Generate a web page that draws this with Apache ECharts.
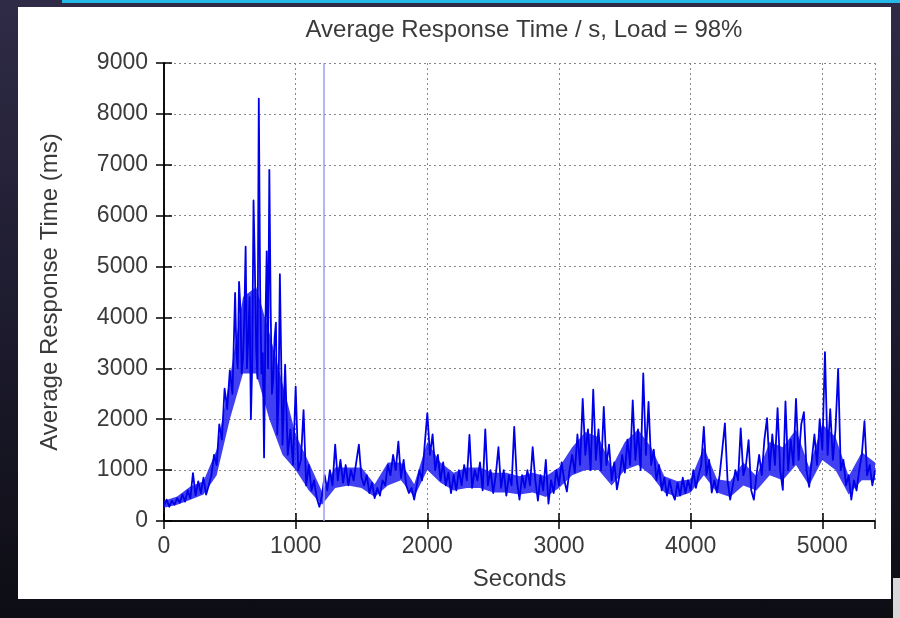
<!DOCTYPE html>
<html>
<head>
<meta charset="utf-8">
<script src="https://cdn.jsdelivr.net/npm/echarts@6/dist/echarts.min.js"></script>
<style>
  html, body { margin: 0; padding: 0; width: 900px; height: 618px; overflow: hidden; }
  body { background: linear-gradient(180deg, #2f2b47 0%, #1c1a2c 55%, #0d0d14 100%); position: relative; }
  #strip { position: absolute; left: 62px; top: 0; width: 838px; height: 3px; background: #25b9ea; }
  #panel { position: absolute; left: 18px; top: 7px; width: 873px; height: 592px; background: #ffffff; }
  #corner { position: absolute; left: 893px; top: 578px; width: 7px; height: 40px; background: #d8d8d8; }
  #chart { position: absolute; left: 0; top: 0; width: 900px; height: 618px; }
</style>
</head>
<body>
<div id="strip"></div>
<div id="panel"></div>
<div id="corner"></div>
<div id="chart"></div>
<script>
// ---- data ----
const chartTitle = 'Average Response Time / s, Load = 98%';
const xAxisName = 'Seconds';
const yAxisName = 'Average Response Time (ms)';
const xRange = [0, 5400];
const xTickStep = 1000;
const yRange = [0, 9000];
const yTickStep = 1000;
const markerSeconds = 1210; // light vertical marker line

// [seconds, response ms] — the noisy trace
const responseSamples = [
  [0,300],[20,420],[40,280],[60,400],[80,320],[100,450],[120,360],[140,520],[160,380],[180,600],
  [200,450],[220,940],[240,500],[260,780],[280,550],[300,850],[320,520],[340,700],[360,900],[380,1300],
  [400,1100],[420,1900],[440,1600],[460,2600],[480,2200],[500,2960],[520,2500],[540,4480],[550,3300],[560,3000],
  [570,4700],[580,4200],[590,2900],[600,3200],[610,4000],[620,5390],[630,3000],[640,3600],[650,4400],[660,2000],
  [670,3100],[680,6300],[690,5000],[700,3400],[710,2800],[720,8300],[730,4600],[740,2900],[750,3300],[760,1250],
  [770,3800],[780,5300],[790,3000],[800,6900],[810,4200],[820,2500],[830,2800],[840,3600],[850,3900],[860,1700],
  [870,2400],[880,4850],[900,1500],[920,3070],[940,1300],[960,1800],[980,1100],[1000,2640],[1020,1000],[1040,1200],
  [1060,2180],[1080,700],[1100,1100],[1120,600],[1140,800],[1160,450],[1180,280],[1200,500],[1220,900],[1240,600],
  [1260,1000],[1280,700],[1300,1500],[1320,800],[1340,1200],[1360,750],[1380,1100],[1400,700],[1420,1000],[1440,800],
  [1460,1150],[1480,1500],[1500,850],[1520,700],[1540,900],[1560,550],[1580,750],[1600,450],[1620,650],[1640,500],
  [1660,800],[1680,700],[1700,1100],[1720,900],[1740,1300],[1760,1000],[1780,1560],[1800,850],[1820,1200],[1840,700],
  [1860,550],[1880,650],[1900,420],[1920,700],[1940,1000],[1960,800],[1980,1500],[2000,2120],[2020,1300],[2040,1700],
  [2060,1000],[2080,1300],[2100,800],[2120,1150],[2140,700],[2160,950],[2180,550],[2200,900],[2220,600],[2240,1000],
  [2260,700],[2280,1100],[2300,800],[2320,1690],[2340,650],[2360,1000],[2380,800],[2400,1150],[2420,600],[2440,1800],
  [2460,700],[2480,1000],[2500,550],[2520,900],[2540,1450],[2560,650],[2580,1000],[2600,500],[2620,900],[2640,700],
  [2660,1850],[2680,800],[2700,420],[2720,900],[2740,650],[2760,1000],[2780,700],[2800,1450],[2820,800],[2840,400],
  [2860,900],[2880,600],[2900,1200],[2920,340],[2940,800],[2960,550],[2980,1000],[3000,700],[3020,1150],[3040,800],
  [3060,580],[3080,1000],[3100,1300],[3120,950],[3140,1700],[3160,1100],[3180,2400],[3200,1300],[3220,1800],[3240,1000],
  [3260,2580],[3280,1200],[3300,1800],[3320,1000],[3340,2240],[3360,1100],[3380,1500],[3400,800],[3420,1150],[3440,620],
  [3460,900],[3480,1300],[3500,950],[3520,1600],[3540,1100],[3560,2370],[3580,1200],[3600,1800],[3620,1000],[3640,2900],
  [3660,1300],[3680,2340],[3700,1100],[3720,1400],[3740,800],[3760,1100],[3780,600],[3800,850],[3820,500],[3840,800],
  [3860,550],[3880,420],[3900,750],[3920,500],[3940,850],[3960,550],[3980,800],[4000,600],[4020,1000],[4040,650],
  [4060,900],[4080,1100],[4100,1850],[4120,900],[4140,1200],[4160,560],[4180,800],[4200,560],[4220,900],[4240,1400],
  [4260,1920],[4280,800],[4300,420],[4320,700],[4340,1000],[4360,800],[4380,1820],[4400,900],[4420,1100],[4440,1590],
  [4460,600],[4480,420],[4500,900],[4520,1300],[4540,900],[4560,1600],[4580,2020],[4600,1000],[4620,1700],[4640,1100],
  [4660,2220],[4680,1000],[4700,610],[4720,2350],[4740,1000],[4760,1600],[4780,1100],[4800,2400],[4820,1200],[4840,1900],
  [4860,2140],[4880,1000],[4900,670],[4920,1200],[4940,1700],[4960,1100],[4980,2000],[5000,1400],[5020,3320],[5040,1300],
  [5060,2200],[5080,1200],[5100,1800],[5120,2990],[5140,1000],[5160,1200],[5180,700],[5200,900],[5220,420],[5240,800],
  [5260,600],[5280,1000],[5300,1300],[5320,1960],[5340,900],[5360,1100],[5380,700],[5400,1000]
];

// dense core of the noisy band, read every 100 s
const coreSeconds = [0,100,200,300,400,500,600,700,800,900,1000,1100,1200,1300,1400,1500,1600,1700,1800,1900,
  2000,2100,2200,2300,2400,2500,2600,2700,2800,2900,3000,3100,3200,3300,3400,3500,3600,3700,3800,3900,
  4000,4100,4200,4300,4400,4500,4600,4700,4800,4900,5000,5100,5200,5300,5400];
const coreLow = [260,320,420,520,900,2000,2900,2900,2000,1300,1000,600,320,650,700,650,470,700,800,470,
  1000,750,600,650,650,560,560,520,560,470,650,900,1000,1000,700,1000,1100,900,560,470,
  560,900,560,470,700,600,900,800,1100,700,1200,1000,520,800,800];
const coreHigh = [400,480,680,780,1400,2800,4400,4600,3700,2700,1700,1150,580,1050,1050,1050,720,1150,1150,720,
  1550,1150,950,1050,1050,950,950,880,950,880,1050,1450,1750,1650,1050,1550,1800,1450,880,780,
  820,1450,820,780,1150,880,1550,1450,1800,1050,1900,1650,880,1350,1150];

// ---- chart ----
const fontFam = '"Liberation Sans", Arial, Helvetica, sans-serif';
const textColor = '#3a3a3a';
const chart = echarts.init(document.getElementById('chart'), null, { renderer: 'canvas' });
const plainNumber = v => String(v);

const mirrorAxisCommon = {
  axisLine: { show: true, lineStyle: { color: '#000', width: 1.5 } },
  axisTick: { show: true, inside: true, length: 8, lineStyle: { color: '#000', width: 1.5 } },
  axisLabel: { show: false },
  splitLine: { show: false }
};

function renderCore(params, api) {
  const pts = [];
  for (let i = 0; i < coreSeconds.length; i++) pts.push(api.coord([coreSeconds[i], coreHigh[i]]));
  for (let i = coreSeconds.length - 1; i >= 0; i--) pts.push(api.coord([coreSeconds[i], coreLow[i]]));
  return {
    type: 'polygon',
    shape: { points: pts },
    style: { fill: 'rgba(30,30,240,0.85)' },
    silent: true
  };
}

chart.setOption({
  animation: false,
  backgroundColor: 'transparent',
  title: {
    text: chartTitle,
    left: 519, top: 13, textAlign: 'center',
    textStyle: { fontFamily: fontFam, fontSize: 24, fontWeight: 'normal', color: textColor }
  },
  grid: { left: 164, top: 63, width: 711, height: 458, containLabel: false },
  xAxis: [{
    type: 'value', min: xRange[0], max: xRange[1], interval: xTickStep,
    name: xAxisName, nameLocation: 'middle', nameGap: 46,
    nameTextStyle: { fontFamily: fontFam, fontSize: 24, color: textColor },
    axisLine: { show: true, onZero: false, lineStyle: { color: '#000', width: 1.5 } },
    axisTick: { show: true, inside: true, length: 8, lineStyle: { color: '#000', width: 1.5 } },
    axisLabel: { fontFamily: fontFam, fontSize: 23, color: textColor, margin: 14, showMaxLabel: false, formatter: plainNumber },
    splitLine: { show: true, lineStyle: { color: '#888', type: [2, 3], width: 1 } }
  }, Object.assign({
    type: 'value', position: 'top', min: xRange[0], max: xRange[1], interval: xTickStep
  }, mirrorAxisCommon)],
  yAxis: [{
    type: 'value', min: yRange[0], max: yRange[1], interval: yTickStep,
    name: yAxisName, nameLocation: 'middle', nameGap: 102, nameRotate: 90,
    nameTextStyle: { fontFamily: fontFam, fontSize: 24, color: textColor },
    axisLine: { show: true, onZero: false, lineStyle: { color: '#000', width: 1.5 } },
    axisTick: { show: true, inside: true, length: 8, lineStyle: { color: '#000', width: 1.5 } },
    axisLabel: { fontFamily: fontFam, fontSize: 23, color: textColor, margin: 16, formatter: plainNumber },
    splitLine: { show: true, lineStyle: { color: '#888', type: [2, 3], width: 1 } }
  }, Object.assign({
    type: 'value', position: 'right', min: yRange[0], max: yRange[1], interval: yTickStep
  }, mirrorAxisCommon)],
  series: [{
    name: 'core', type: 'custom',
    xAxisIndex: 0, yAxisIndex: 0,
    data: [[coreSeconds[0], coreLow[0]]],
    encode: { x: 0, y: 1 },
    renderItem: renderCore,
    clip: true, silent: true, z: 2
  }, {
    name: 'response', type: 'line',
    data: responseSamples,
    xAxisIndex: 0, yAxisIndex: 0,
    showSymbol: false,
    sampling: null,
    lineStyle: { color: '#0000e8', width: 1.8, join: 'round' },
    itemStyle: { color: '#0000e8' },
    z: 3,
    markLine: {
      silent: true,
      symbol: ['none', 'none'],
      label: { show: false },
      lineStyle: { color: '#9c9cf4', width: 1.5, type: 'solid' },
      data: [{ xAxis: markerSeconds }]
    }
  }]
});
</script>
</body>
</html>
